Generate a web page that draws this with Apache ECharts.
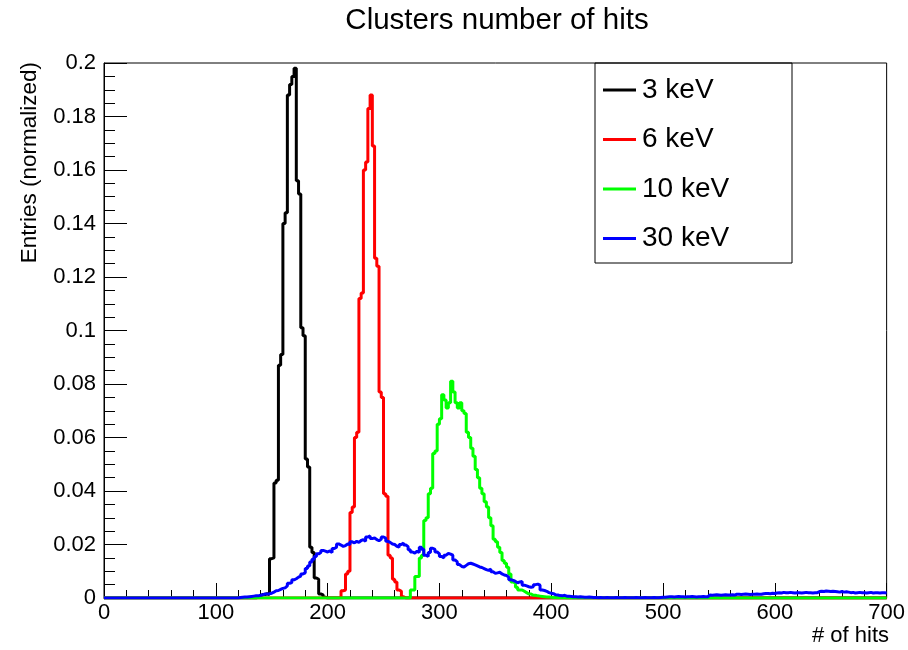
<!DOCTYPE html>
<html>
<head>
<meta charset="utf-8">
<script src="https://cdn.jsdelivr.net/npm/echarts@6/dist/echarts.min.js"></script>
<style>
html,body{margin:0;padding:0;background:#fff;}
#chart{width:908px;height:650px;}
</style>
</head>
<body>
<div id="chart"></div>
<script>
// ---- data (histograms, 2-unit bins) ----
const titleText = 'Clusters number of hits';
const xTitle = '# of hits';
const yTitle = 'Entries (normalized)';
const binWidth = 2;
const xMin = 0, xMax = 700;
const yMin = 0, yMax = 0.2;
const seriesNames = ['3 keV', '6 keV', '10 keV', '30 keV'];
const seriesColors = ['#000000', '#ff0000', '#00ff00', '#0000ff'];

const black3keVStart = 136;
const black3keV = [
  0.0003, 0.0008, 0.0013, 0.0013, 0.0016, 0.0013, 0.0147, 0.0150, 0.0430, 0.0440,
  0.0870, 0.0910, 0.1400, 0.1440, 0.1880, 0.1920, 0.1950, 0.1980, 0.1560, 0.1510,
  0.1010, 0.0980, 0.0520, 0.0490, 0.0190, 0.0170, 0.0075, 0.0070, 0.0015, 0.0012,
  0.0003
];

const red6keVStart = 210;
const red6keV = [
  0.0003, 0.0027, 0.0030, 0.0090, 0.0100, 0.0320, 0.0340, 0.0600, 0.0620, 0.1120,
  0.1140, 0.1600, 0.1630, 0.1830, 0.1880, 0.1690, 0.1270, 0.1240, 0.0770, 0.0750,
  0.0390, 0.0380, 0.0160, 0.0150, 0.0070, 0.0060, 0.0030, 0.0025, 0.0005
];

const green10keVStart = 272;
const green10keV = [
  0.0000, 0.0030, 0.0030, 0.0080, 0.0080, 0.0150, 0.0160, 0.0290, 0.0300, 0.0390,
  0.0410, 0.0540, 0.0550, 0.0650, 0.0670, 0.0760, 0.0740, 0.0710, 0.0730, 0.0810,
  0.0770, 0.0730, 0.0710, 0.0730, 0.0700, 0.0690, 0.0620, 0.0600, 0.0560, 0.0530,
  0.0480, 0.0450, 0.0410, 0.0390, 0.0360, 0.0340, 0.0300, 0.0270, 0.0220, 0.0210,
  0.0190, 0.0170, 0.0140, 0.0130, 0.0115, 0.0090, 0.0060, 0.0055, 0.0040, 0.0030,
  0.0030, 0.0025, 0.0020, 0.0015, 0.0015, 0.0010, 0.0010, 0.0008, 0.0007, 0.0006,
  0.0005, 0.0004, 0.0004, 0.0003, 0.0002, 0.0002, 0.0001, 0.0001, 0.0001, 0.0001
];

const blue30keVStart = 120;
const blue30keV = [
  0.0002, 0.0003, 0.0004, 0.0004, 0.0005, 0.0006, 0.0007, 0.0008, 0.0008, 0.0010,
  0.0012, 0.0015, 0.0015, 0.0016, 0.0018, 0.0022, 0.0027, 0.0028, 0.0032, 0.0036,
  0.0038, 0.0045, 0.0055, 0.0058, 0.0068, 0.0072, 0.0078, 0.0082, 0.0090, 0.0094,
  0.0110, 0.0120, 0.0135, 0.0145, 0.0155, 0.0165, 0.0170, 0.0178, 0.0175, 0.0172,
  0.0176, 0.0170, 0.0185, 0.0190, 0.0202, 0.0198, 0.0193, 0.0196, 0.0202, 0.0200,
  0.0210, 0.0206, 0.0212, 0.0208, 0.0215, 0.0218, 0.0212, 0.0228, 0.0232, 0.0222,
  0.0225, 0.0218, 0.0214, 0.0220, 0.0228, 0.0224, 0.0212, 0.0208, 0.0202, 0.0200,
  0.0193, 0.0190, 0.0200, 0.0206, 0.0198, 0.0192, 0.0180, 0.0172, 0.0168, 0.0175,
  0.0170, 0.0190, 0.0182, 0.0160, 0.0155, 0.0170, 0.0186, 0.0182, 0.0172, 0.0165,
  0.0155, 0.0150, 0.0160, 0.0167, 0.0164, 0.0160, 0.0142, 0.0135, 0.0125, 0.0118,
  0.0116, 0.0122, 0.0128, 0.0130, 0.0127, 0.0124, 0.0120, 0.0116, 0.0114, 0.0110,
  0.0106, 0.0103, 0.0108, 0.0098, 0.0092, 0.0094, 0.0096, 0.0090, 0.0086, 0.0084,
  0.0078, 0.0068, 0.0066, 0.0062, 0.0057, 0.0060, 0.0062, 0.0048, 0.0045, 0.0042,
  0.0040, 0.0042, 0.0050, 0.0052, 0.0048, 0.0030, 0.0028, 0.0025, 0.0020, 0.0018,
  0.0016, 0.0012, 0.0011, 0.0009, 0.0008, 0.0010, 0.0007, 0.0007, 0.0006, 0.0005,
  0.0005, 0.0004, 0.0005, 0.0004, 0.0003, 0.0003, 0.0004, 0.0003, 0.0002, 0.0002,
  0.0001, 0.0002, 0.0001, 0.0001, 0.0002, 0.0001, 0.0001, 0.0001, 0.0002, 0.0001,
  0.0001, 0.0001, 0.0002, 0.0001, 0.0001, 0.0001, 0.0001, 0.0002, 0.0001, 0.0001,
  0.0001, 0.0002, 0.0001, 0.0001, 0.0001, 0.0002, 0.0001, 0.0001, 0.0002, 0.0003,
  0.0003, 0.0004, 0.0005, 0.0005, 0.0004, 0.0005, 0.0006, 0.0005, 0.0005, 0.0004,
  0.0005, 0.0005, 0.0006, 0.0005, 0.0004, 0.0005, 0.0005, 0.0006, 0.0005, 0.0005,
  0.0011, 0.0010, 0.0011, 0.0012, 0.0011, 0.0010, 0.0011, 0.0012, 0.0011, 0.0011,
  0.0012, 0.0011, 0.0014, 0.0014, 0.0013, 0.0014, 0.0015, 0.0014, 0.0013, 0.0014,
  0.0014, 0.0015, 0.0014, 0.0014, 0.0016, 0.0017, 0.0017, 0.0016, 0.0018, 0.0017,
  0.0019, 0.0020, 0.0019, 0.0021, 0.0020, 0.0020, 0.0021, 0.0020, 0.0019, 0.0020,
  0.0020, 0.0019, 0.0020, 0.0021, 0.0020, 0.0020, 0.0019, 0.0020, 0.0020, 0.0024,
  0.0025, 0.0024, 0.0026, 0.0025, 0.0024, 0.0025, 0.0024, 0.0023, 0.0022, 0.0024,
  0.0022, 0.0023, 0.0022, 0.0020, 0.0021, 0.0019, 0.0020, 0.0021, 0.0020, 0.0020,
  0.0019, 0.0020, 0.0021, 0.0019, 0.0020, 0.0020, 0.0019, 0.0020, 0.0020, 0.0019
];

const histStarts = [black3keVStart, red6keVStart, green10keVStart, blue30keVStart];
const histValues = [black3keV, red6keV, green10keV, blue30keV];

// Build step-outline points over the full histogram range (empty bins are 0)
function histPoints(start, values) {
  const pts = [];
  const n = Math.round((xMax - xMin) / binWidth);
  for (let i = 0; i < n; i++) {
    const x = xMin + i * binWidth;
    const k = Math.round((x - start) / binWidth);
    const v = (k >= 0 && k < values.length) ? values[k] : 0;
    pts.push([x, v]);
  }
  pts.push([xMax, pts[pts.length - 1][1]]);
  return pts;
}

const FONT = 'Liberation Sans, Arial, Helvetica, sans-serif';
const chart = echarts.init(document.getElementById('chart'), null, {renderer: 'canvas'});

const option = {
  animation: false,
  backgroundColor: '#ffffff',
  grid: {
    left: 104, right: 18, top: 63, bottom: 52,
    show: true, borderColor: '#000', borderWidth: 1, backgroundColor: 'transparent'
  },
  xAxis: {
    type: 'value', min: xMin, max: xMax, interval: 100,
    axisLine: {show: true, onZero: false, lineStyle: {color: '#000', width: 1}},
    axisTick: {show: true, inside: true, length: 15, lineStyle: {color: '#000', width: 1}},
    minorTick: {show: true, splitNumber: 5, length: 8, lineStyle: {color: '#000', width: 1}},
    splitLine: {show: false},
    minorSplitLine: {show: false},
    axisLabel: {color: '#000', fontSize: 22, fontFamily: FONT, margin: 4}
  },
  yAxis: {
    type: 'value', min: yMin, max: yMax, interval: 0.02,
    axisLine: {show: true, onZero: false, lineStyle: {color: '#000', width: 1}},
    axisTick: {show: true, inside: true, length: 23, lineStyle: {color: '#000', width: 1}},
    minorTick: {show: true, splitNumber: 4, length: 11, lineStyle: {color: '#000', width: 1}},
    splitLine: {show: false},
    minorSplitLine: {show: false},
    axisLabel: {
      color: '#000', fontSize: 22, fontFamily: FONT, margin: 8,
      formatter: function (v) { return String(Math.round(v * 1000) / 1000); }
    }
  },
  legend: {
    orient: 'vertical',
    left: 603, top: 75,
    itemWidth: 33, itemHeight: 3,
    itemGap: 19.5,
    icon: 'rect',
    padding: 0,
    data: seriesNames,
    textStyle: {color: '#000', fontSize: 28, fontFamily: FONT, lineHeight: 30, padding: [0, 0, 0, 1]},
    selectedMode: false
  },
  graphic: [
    {type: 'rect', shape: {x: 595, y: 63, width: 197, height: 200},
     style: {fill: 'none', stroke: '#000', lineWidth: 1}, z: 10, silent: true},
    {type: 'text', x: 497, y: 21,
     style: {text: titleText, fill: '#000', font: '29.5px ' + FONT, align: 'center', verticalAlign: 'middle'}},
    {type: 'text', x: 30, y: 62, rotation: Math.PI / 2,
     style: {text: yTitle, fill: '#000', font: '22.5px ' + FONT, align: 'right', verticalAlign: 'middle'}},
    {type: 'text', x: 889, y: 636,
     style: {text: xTitle, fill: '#000', font: '22px ' + FONT, align: 'right', verticalAlign: 'middle'}}
  ],
  series: seriesNames.map(function (name, i) {
    return {
      name: name,
      type: 'line',
      step: 'end',
      showSymbol: false,
      symbol: 'none',
      clip: true,
      color: seriesColors[i],
      lineStyle: {color: seriesColors[i], width: 3},
      data: histPoints(histStarts[i], histValues[i]),
      z: 2 + i
    };
  })
};
chart.setOption(option);
</script>
</body>
</html>
